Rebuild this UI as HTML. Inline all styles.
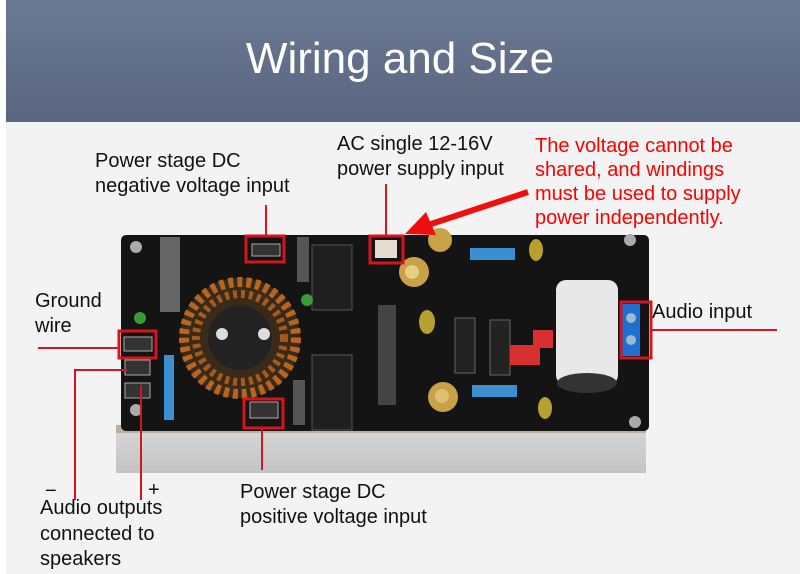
<!DOCTYPE html>
<html><head><meta charset="utf-8"><style>
html,body{margin:0;padding:0;width:800px;height:574px;overflow:hidden;background:#f3f3f3}
svg{display:block}
text{font-family:"Liberation Sans",sans-serif}
</style></head><body>
<svg width="800" height="574" viewBox="0 0 800 574" xmlns="http://www.w3.org/2000/svg">
<defs>
<linearGradient id="hd" x1="0" y1="0" x2="0" y2="1">
<stop offset="0" stop-color="#6c7994"/><stop offset="1" stop-color="#5a6680"/></linearGradient>
<linearGradient id="hs" x1="0" y1="0" x2="0" y2="1">
<stop offset="0" stop-color="#d8d8d8"/><stop offset="1" stop-color="#c4c4c4"/></linearGradient>
</defs>
<rect x="0" y="0" width="800" height="574" fill="#f3f3f3"/>
<rect x="0" y="0" width="6" height="574" fill="#fff"/>
<rect x="6" y="0" width="794" height="122" fill="url(#hd)"/>
<text x="400" y="73" font-size="44" fill="#fff" text-anchor="middle">Wiring and Size</text>

<!-- heatsink -->
<rect x="116" y="425" width="530" height="48" fill="url(#hs)"/>
<rect x="116" y="425" width="530" height="8" fill="#b8b0a0"/>
<!-- board -->
<rect x="121" y="235" width="528" height="196" rx="5" fill="#141414"/>
<!-- toroid -->
<circle cx="240" cy="338" r="60" fill="#3a2a1a"/>
<circle cx="240" cy="338" r="56" fill="none" stroke="#b8651f" stroke-width="10" stroke-dasharray="5 4"/>
<circle cx="240" cy="338" r="44" fill="none" stroke="#a55a1c" stroke-width="8" stroke-dasharray="4 4"/>
<circle cx="240" cy="338" r="32" fill="#222"/>
<circle cx="222" cy="334" r="6" fill="#ddd"/><circle cx="264" cy="334" r="6" fill="#ddd"/>
<!-- relay/cap grey blocks -->
<rect x="160" y="237" width="20" height="75" fill="#666"/>
<rect x="297" y="237" width="12" height="45" fill="#555"/>
<rect x="312" y="245" width="40" height="65" fill="#1f1f1f" stroke="#555"/>
<rect x="312" y="355" width="40" height="75" fill="#1f1f1f" stroke="#555"/>
<rect x="378" y="305" width="18" height="100" fill="#444"/>
<rect x="293" y="380" width="12" height="45" fill="#555"/>
<!-- white capacitor -->
<rect x="556" y="280" width="62" height="105" rx="10" fill="#e8e8e8"/>
<ellipse cx="587" cy="383" rx="30" ry="10" fill="#333"/>
<!-- electrolytic caps -->
<circle cx="440" cy="240" r="12" fill="#c9a248"/><circle cx="414" cy="272" r="15" fill="#c9a248"/>
<circle cx="443" cy="397" r="15" fill="#c9a248"/><circle cx="442" cy="396" r="7" fill="#e0c070"/>
<circle cx="412" cy="272" r="7" fill="#e6cf86"/>
<!-- blue resistors -->
<rect x="470" y="248" width="45" height="12" fill="#3a8fd0"/>
<rect x="472" y="385" width="45" height="12" fill="#3a8fd0"/>
<rect x="164" y="355" width="10" height="65" fill="#3a8fd0"/>
<!-- ICs -->
<rect x="455" y="318" width="20" height="55" fill="#222" stroke="#666"/>
<rect x="490" y="320" width="20" height="55" fill="#222" stroke="#666"/>
<rect x="510" y="345" width="30" height="20" fill="#d83030"/>
<rect x="533" y="330" width="20" height="18" fill="#d83030"/>
<!-- yellow caps -->
<ellipse cx="536" cy="250" rx="7" ry="11" fill="#b8a030"/>
<ellipse cx="427" cy="322" rx="8" ry="12" fill="#b8a030"/>
<ellipse cx="545" cy="408" rx="7" ry="11" fill="#b8a030"/>
<circle cx="140" cy="318" r="6" fill="#3a9a3a"/>
<circle cx="307" cy="300" r="6" fill="#3a9a3a"/>
<!-- blue terminal -->
<rect x="622" y="304" width="18" height="52" fill="#1e6fd0"/>
<circle cx="631" cy="318" r="5" fill="#9bc"/><circle cx="631" cy="340" r="5" fill="#9bc"/>
<!-- screws -->
<circle cx="136" cy="247" r="6" fill="#aaa"/><circle cx="630" cy="240" r="6" fill="#aaa"/>
<circle cx="136" cy="410" r="6" fill="#aaa"/><circle cx="635" cy="422" r="6" fill="#aaa"/>
<!-- connectors -->
<rect x="375" y="240" width="22" height="18" fill="#e6ddd0"/>
<rect x="125" y="360" width="25" height="15" fill="#333" stroke="#aaa"/>
<rect x="125" y="383" width="25" height="15" fill="#333" stroke="#aaa"/>
<rect x="250" y="402" width="28" height="16" fill="#333" stroke="#aaa"/>
<rect x="252" y="244" width="28" height="12" fill="#333" stroke="#aaa"/>
<rect x="124" y="337" width="28" height="14" fill="#333" stroke="#aaa"/>

<!-- red annotations -->
<g stroke="#d4141e" stroke-width="2" fill="none">
<line x1="266" y1="205" x2="266" y2="236"/>
<rect x="246" y="236" width="38" height="26" stroke-width="3"/>
<line x1="386" y1="184" x2="386" y2="236"/>
<rect x="370" y="236" width="33" height="27" stroke-width="3"/>
<line x1="38" y1="348" x2="119" y2="348"/>
<rect x="119" y="331" width="37" height="27" stroke-width="3"/>
<polyline points="127,370 75,370 75,500"/>
<line x1="141" y1="385" x2="141" y2="500"/>
<rect x="244" y="399" width="39" height="29" stroke-width="3"/>
<line x1="262" y1="428" x2="262" y2="470"/>
<rect x="621" y="302" width="30" height="56" stroke-width="3"/>
<line x1="651" y1="330" x2="777" y2="330"/>
</g>
<line x1="528" y1="192" x2="425" y2="226" stroke="#ee1010" stroke-width="6"/>
<polygon points="405,234 426,212 436,235" fill="#ee1010"/>

<g font-size="20" fill="#111">
<text x="95" y="167">Power stage DC</text>
<text x="95" y="192">negative voltage input</text>
<text x="337" y="150">AC single 12-16V</text>
<text x="337" y="175">power supply input</text>
<text x="35" y="307">Ground</text>
<text x="35" y="332">wire</text>
<text x="652" y="318">Audio input</text>
<text x="45" y="497">−</text>
<text x="148" y="496">+</text>
<text x="40" y="514">Audio outputs</text>
<text x="40" y="540">connected to</text>
<text x="40" y="565">speakers</text>
<text x="240" y="498">Power stage DC</text>
<text x="240" y="523">positive voltage input</text>
</g>
<g font-size="20" fill="#f00">
<text x="535" y="152">The voltage cannot be</text>
<text x="535" y="176">shared, and windings</text>
<text x="535" y="200">must be used to supply</text>
<text x="535" y="224">power independently.</text>
</g>
</svg>
</body></html>
